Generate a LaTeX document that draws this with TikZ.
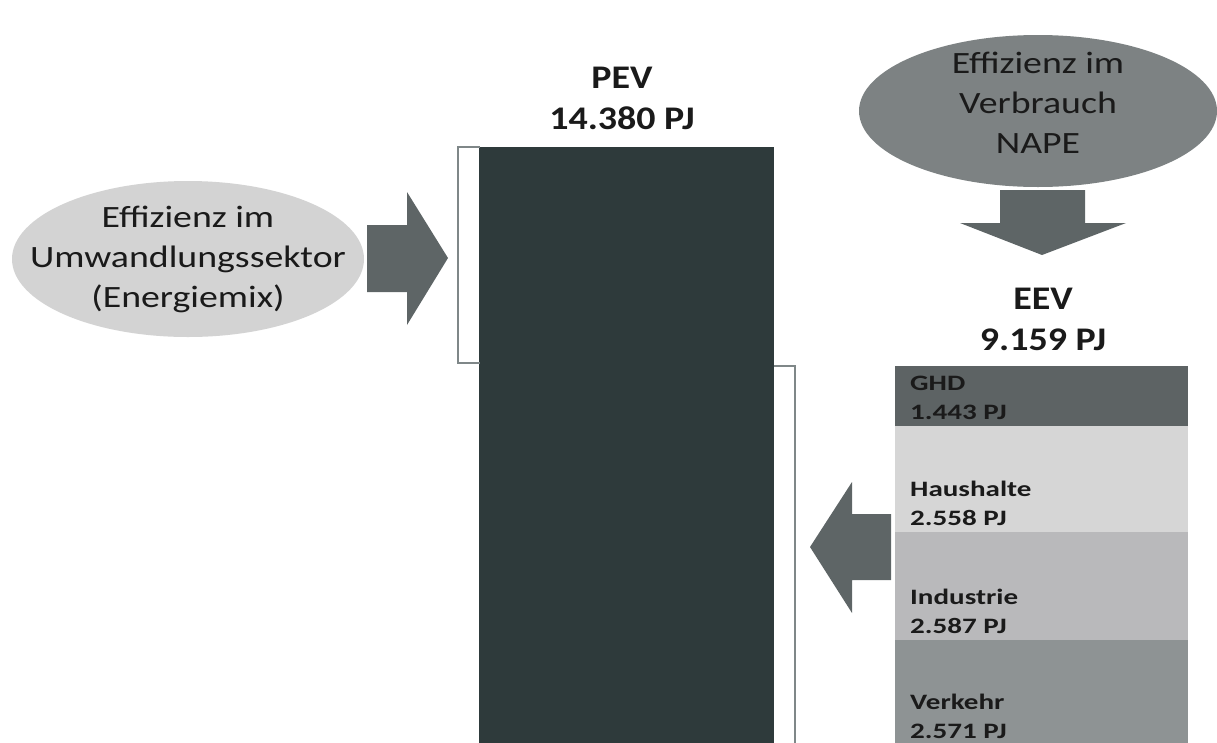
\documentclass[tikz,border=0pt]{standalone}
\usepackage{fontspec}
\setmainfont{Carlito}
\newfontfamily\ellfont[FakeStretch=1.22]{Carlito}
\newfontfamily\headfont[FakeStretch=1.15]{Carlito}
\newfontfamily\labfont[FakeStretch=1.32]{Carlito}
\usetikzlibrary{shapes.geometric}
\definecolor{bardark}{HTML}{2E3A3B}
\definecolor{arrowgray}{HTML}{5E6566}
\definecolor{elllight}{HTML}{D3D3D3}
\definecolor{ellmid}{HTML}{7D8283}
\definecolor{ghdc}{HTML}{5D6364}
\definecolor{hhc}{HTML}{D6D6D6}
\definecolor{indc}{HTML}{B9B9BB}
\definecolor{verc}{HTML}{8E9394}
\definecolor{brackc}{HTML}{7F8788}
\definecolor{txt}{HTML}{1A1A1A}
\tikzset{
  ellshape/.style={ellipse, inner sep=0pt, draw=none},
  elltxt/.style={align=center, text=txt, inner sep=0pt,
    font=\ellfont\fontsize{31}{40}\selectfont},
  headtxt/.style={align=center, text=txt, inner sep=0pt,
    font=\headfont\bfseries\fontsize{33}{41}\selectfont},
  labtxt/.style={align=left, anchor=west, text=txt, inner sep=0pt,
    font=\labfont\bfseries\fontsize{22}{29}\selectfont},
  blockarrow/.style={fill=arrowgray, draw=none},
  bracket/.style={draw=brackc, line width=1.6pt}
}
\begin{document}
\begin{tikzpicture}[x=1pt,y=-1pt]
\useasboundingbox (0,0) rectangle (1217,742);
% left ellipse
\node[ellshape, fill=elllight, minimum width=352pt, minimum height=156pt] (umw) at (188,259) {};
\node[elltxt] (umwt) at (umw.center) {Effizienz im\\Umwandlungssektor\\(Energiemix)};
% top right ellipse
\node[ellshape, fill=ellmid, minimum width=358pt, minimum height=152pt] (nape) at (1038,111) {};
\node[elltxt] (napet) at ([yshift=8pt]nape.center) {Effizienz im\\Verbrauch\\NAPE};
% main bar
\node[fill=bardark, draw=none, inner sep=0pt, minimum width=295pt, minimum height=600pt, anchor=north west] (pev) at (479,147) {};
% PEV heading
\node[headtxt] (pevlab) at (622,98) {PEV\\14.380 PJ};
% brackets
\coordinate (bl1) at (480,147);
\coordinate (bl2) at (458,147);
\coordinate (bl3) at (458,363);
\coordinate (bl4) at (480,363);
\draw[bracket] (bl1) -- (bl2) -- (bl3) -- (bl4);
\coordinate (br1) at (774,366);
\coordinate (br2) at (795,366);
\coordinate (br3) at (795,745);
\draw[bracket] (br1) -- (br2) -- (br3);
% right arrow
\fill[blockarrow] (367,225) -- (407,225) -- (407,192) -- (448,258) -- (407,325) -- (407,292) -- (367,292) -- cycle;
% down arrow
\fill[blockarrow] (1000,190) -- (1085,190) -- (1085,223) -- (1126,223) -- (1042,255) -- (960,223) -- (1000,223) -- cycle;
% left arrow
\fill[blockarrow] (891,514) -- (852,514) -- (852,482) -- (810,547) -- (852,613) -- (852,580) -- (891,580) -- cycle;
% EEV heading
\node[headtxt] (eevlab) at (1043,319) {EEV\\9.159 PJ};
% EEV stack
\node[fill=ghdc, inner sep=0pt, minimum width=293pt, minimum height=60pt, anchor=north west] (ghd) at (895,366) {};
\node[fill=hhc, inner sep=0pt, minimum width=293pt, minimum height=106pt, anchor=north west] (hh) at (895,426) {};
\node[fill=indc, inner sep=0pt, minimum width=293pt, minimum height=108pt, anchor=north west] (ind) at (895,532) {};
\node[fill=verc, inner sep=0pt, minimum width=293pt, minimum height=105pt, anchor=north west] (ver) at (895,640) {};
\node[labtxt] (ghdt) at (910,398) {GHD\\1.443 PJ};
\node[labtxt] (hht) at (910,503) {Haushalte\\2.558 PJ};
\node[labtxt] (indt) at (910,611) {Industrie\\2.587 PJ};
\node[labtxt] (vert) at (910,716) {Verkehr\\2.571 PJ};
\end{tikzpicture}
\end{document}
